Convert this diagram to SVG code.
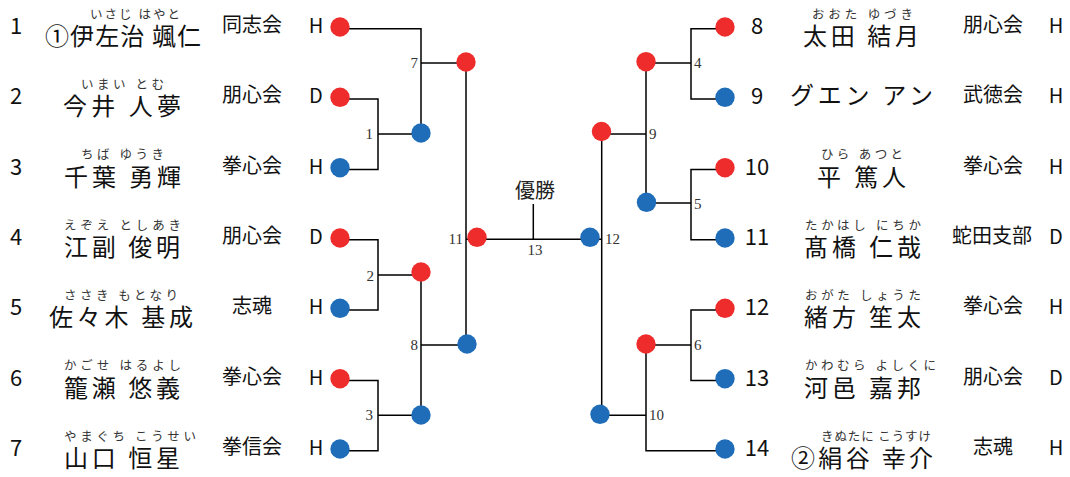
<svg xmlns="http://www.w3.org/2000/svg" width="1070" height="477" viewBox="0 0 1070 477">
<style>
.bg{fill:#fff}
.w{fill:#EE2C2C}
.l{fill:#1F6DB8}
.ln{fill:none;stroke:#000;stroke-width:1.5}
.num{font-family:"Noto Sans CJK JP","Noto Sans",sans-serif;font-size:22px;fill:#111;text-anchor:middle}
.nm{font-family:"Noto Sans CJK JP",sans-serif;font-size:24px;fill:#111}
.fu{font-family:"Noto Sans CJK JP",sans-serif;font-size:12.5px;fill:#333}
.cl{font-family:"Noto Sans CJK JP",sans-serif;font-size:20px;fill:#111;text-anchor:middle}
.hd{font-family:"Noto Sans CJK JP","Noto Sans",sans-serif;font-size:20px;fill:#111;text-anchor:middle}
.mn{font-family:"Liberation Serif",serif;font-size:15px;fill:#333}
.ttl{font-family:"Liberation Serif","Noto Sans CJK JP",serif;font-size:20px;fill:#222;text-anchor:middle}
</style>
<rect class="bg" x="0" y="0" width="1070" height="477"/>

<g id="connectors">
<!-- left bracket -->
<path class="ln" d="M340 28.7H421V133"/>
<path class="ln" d="M421 63H466"/>
<path class="ln" d="M340 99H378V169.4H340M378 134H421"/>
<path class="ln" d="M340 239.7H378V310H340M378 275H421"/>
<path class="ln" d="M340 380.4H378V450.7H340M378 415.3H421"/>
<path class="ln" d="M421 272V415M421 345H467"/>
<path class="ln" d="M466 62V344"/>
<!-- final -->
<path class="ln" d="M466 239.3H601.7"/>
<path class="ln" d="M533.3 204V239.3"/>
<!-- right bracket -->
<path class="ln" d="M601.7 131V414"/>
<path class="ln" d="M601.7 134H646M646 62V203"/>
<path class="ln" d="M725 28.7H691V99H725M691 63H646"/>
<path class="ln" d="M725 169.4H691V239.7H725M691 203H646"/>
<path class="ln" d="M725 310H691V380.4H725M691 345H646"/>
<path class="ln" d="M646 344V450.7H725M646 415.3H600"/>
</g>

<g id="match-labels">
<text class="mn" x="418" y="68" text-anchor="end">7</text>
<text class="mn" x="373" y="139" text-anchor="end">1</text>
<text class="mn" x="374" y="281" text-anchor="end">2</text>
<text class="mn" x="373" y="420" text-anchor="end">3</text>
<text class="mn" x="418" y="350" text-anchor="end">8</text>
<text class="mn" x="463" y="244" text-anchor="end">11</text>
<text class="mn" x="535" y="255" text-anchor="middle">13</text>
<text class="mn" x="605" y="244">12</text>
<text class="mn" x="649" y="139">9</text>
<text class="mn" x="694" y="68">4</text>
<text class="mn" x="694" y="209">5</text>
<text class="mn" x="694" y="350">6</text>
<text class="mn" x="649" y="420">10</text>
<text class="ttl" x="535" y="198">優勝</text>
</g>

<g id="match-dots">
<circle id="m1" class="l" cx="421" cy="133" r="9.7"/>
<circle id="m2" class="w" cx="421" cy="272" r="9.7"/>
<circle id="m3" class="l" cx="421" cy="415" r="9.7"/>
<circle id="m7" class="w" cx="466" cy="62" r="9.7"/>
<circle id="m8" class="l" cx="467" cy="344" r="9.7"/>
<circle id="m11" class="w" cx="477" cy="237.3" r="9.7"/>
<circle id="m12" class="l" cx="590" cy="237.3" r="9.7"/>
<circle id="m9" class="w" cx="601.5" cy="131.5" r="9.7"/>
<circle id="m10" class="l" cx="600" cy="414.3" r="9.7"/>
<circle id="m4" class="w" cx="646" cy="61.7" r="9.7"/>
<circle id="m5" class="l" cx="646.5" cy="202.3" r="9.7"/>
<circle id="m6" class="w" cx="646" cy="344" r="9.7"/>
</g>

<g id="p1">
<circle class="w" cx="340" cy="27" r="9.7"/>
<text class="num" x="16" y="34">1</text>
<text class="fu" x="90" y="18.5" textLength="90" lengthAdjust="spacing">いさじ はやと</text>
<text class="nm" x="45" y="45" textLength="156" lengthAdjust="spacing">①伊左治 颯仁</text>
<text class="cl" x="252" y="32">同志会</text>
<text class="hd" x="316" y="33">H</text>
</g>
<g id="p2">
<circle class="w" cx="340" cy="97.3" r="9.7"/>
<text class="num" x="16" y="104.3">2</text>
<text class="fu" x="81" y="88.8" textLength="83" lengthAdjust="spacing">いまい とむ</text>
<text class="nm" x="63" y="115.3" textLength="118" lengthAdjust="spacing">今井 人夢</text>
<text class="cl" x="252" y="102.3">朋心会</text>
<text class="hd" x="316" y="103.3">D</text>
</g>
<g id="p3">
<circle class="l" cx="340" cy="167.7" r="9.7"/>
<text class="num" x="16" y="174.7">3</text>
<text class="fu" x="81" y="159.2" textLength="83" lengthAdjust="spacing">ちば ゆうき</text>
<text class="nm" x="64" y="185.7" textLength="117" lengthAdjust="spacing">千葉 勇輝</text>
<text class="cl" x="252" y="172.7">拳心会</text>
<text class="hd" x="316" y="173.7">H</text>
</g>
<g id="p4">
<circle class="w" cx="340" cy="238" r="9.7"/>
<text class="num" x="16" y="245">4</text>
<text class="fu" x="64" y="229.5" textLength="117" lengthAdjust="spacing">えぞえ としあき</text>
<text class="nm" x="64" y="256" textLength="116" lengthAdjust="spacing">江副 俊明</text>
<text class="cl" x="252" y="243">朋心会</text>
<text class="hd" x="316" y="244">D</text>
</g>
<g id="p5">
<circle class="l" cx="340" cy="308.3" r="9.7"/>
<text class="num" x="16" y="315.3">5</text>
<text class="fu" x="64" y="299.8" textLength="114" lengthAdjust="spacing">ささき もとなり</text>
<text class="nm" x="49" y="326.3" textLength="144" lengthAdjust="spacing">佐々木 基成</text>
<text class="cl" x="252" y="313.3">志魂</text>
<text class="hd" x="316" y="314.3">H</text>
</g>
<g id="p6">
<circle class="w" cx="340" cy="378.7" r="9.7"/>
<text class="num" x="16" y="385.7">6</text>
<text class="fu" x="64" y="370.2" textLength="117" lengthAdjust="spacing">かごせ はるよし</text>
<text class="nm" x="64" y="396.7" textLength="116" lengthAdjust="spacing">籠瀬 悠義</text>
<text class="cl" x="252" y="383.7">拳心会</text>
<text class="hd" x="316" y="384.7">H</text>
</g>
<g id="p7">
<circle class="l" cx="340" cy="449" r="9.7"/>
<text class="num" x="16" y="456">7</text>
<text class="fu" x="64" y="440.5" textLength="132" lengthAdjust="spacing">やまぐち こうせい</text>
<text class="nm" x="64" y="467" textLength="116" lengthAdjust="spacing">山口 恒星</text>
<text class="cl" x="252" y="454">拳信会</text>
<text class="hd" x="316" y="455">H</text>
</g>

<g id="p8">
<circle class="w" cx="725" cy="27" r="9.7"/>
<text class="num" x="757" y="34">8</text>
<text class="fu" x="812" y="18.5" textLength="101" lengthAdjust="spacing">おおた ゆづき</text>
<text class="nm" x="803" y="45" textLength="116" lengthAdjust="spacing">太田 結月</text>
<text class="cl" x="993" y="32">朋心会</text>
<text class="hd" x="1056" y="33">H</text>
</g>
<g id="p9">
<circle class="l" cx="725" cy="97.3" r="9.7"/>
<text class="num" x="757" y="104.3">9</text>
<text class="nm" x="790" y="104" textLength="143" lengthAdjust="spacing">グエン アン</text>
<text class="cl" x="993" y="102.3">武徳会</text>
<text class="hd" x="1056" y="103.3">H</text>
</g>
<g id="p10">
<circle class="w" cx="725" cy="167.7" r="9.7"/>
<text class="num" x="757" y="174.7">10</text>
<text class="fu" x="821" y="159.2" textLength="82" lengthAdjust="spacing">ひら あつと</text>
<text class="nm" x="817" y="185.7" textLength="89" lengthAdjust="spacing">平 篤人</text>
<text class="cl" x="993" y="172.7">拳心会</text>
<text class="hd" x="1056" y="173.7">H</text>
</g>
<g id="p11">
<circle class="l" cx="725" cy="238" r="9.7"/>
<text class="num" x="757" y="245">11</text>
<text class="fu" x="805" y="229.5" textLength="116" lengthAdjust="spacing">たかはし にちか</text>
<text class="nm" x="804" y="256" textLength="117" lengthAdjust="spacing">髙橋 仁哉</text>
<text class="cl" x="992" y="243">蛇田支部</text>
<text class="hd" x="1056" y="244">D</text>
</g>
<g id="p12">
<circle class="w" cx="725" cy="308.3" r="9.7"/>
<text class="num" x="757" y="315.3">12</text>
<text class="fu" x="805" y="299.8" textLength="116" lengthAdjust="spacing">おがた しょうた</text>
<text class="nm" x="804" y="326.3" textLength="117" lengthAdjust="spacing">緒方 笙太</text>
<text class="cl" x="993" y="313.3">拳心会</text>
<text class="hd" x="1056" y="314.3">H</text>
</g>
<g id="p13">
<circle class="l" cx="725" cy="378.7" r="9.7"/>
<text class="num" x="757" y="385.7">13</text>
<text class="fu" x="805" y="370.2" textLength="131" lengthAdjust="spacing">かわむら よしくに</text>
<text class="nm" x="804" y="396.7" textLength="117" lengthAdjust="spacing">河邑 嘉邦</text>
<text class="cl" x="993" y="383.7">朋心会</text>
<text class="hd" x="1056" y="384.7">D</text>
</g>
<g id="p14">
<circle class="l" cx="725" cy="449" r="9.7"/>
<text class="num" x="757" y="456">14</text>
<text class="fu" x="821" y="440.5" textLength="110" lengthAdjust="spacing">きぬたに こうすけ</text>
<text class="nm" x="791" y="467" textLength="142" lengthAdjust="spacing">②絹谷 幸介</text>
<text class="cl" x="993" y="454">志魂</text>
<text class="hd" x="1056" y="455">H</text>
</g>
</svg>
